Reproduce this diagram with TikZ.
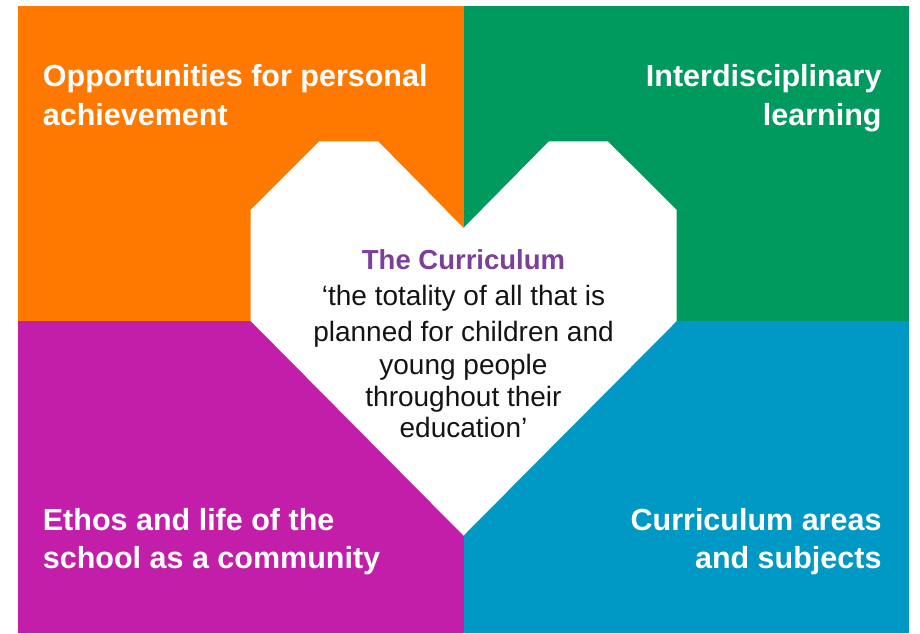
\documentclass[tikz,border=0pt]{standalone}
\usepackage{fontspec}
\setmainfont{Liberation Sans}
\definecolor{qorange}{RGB}{255,121,0}
\definecolor{qgreen}{RGB}{0,153,94}
\definecolor{qmagenta}{RGB}{195,30,170}
\definecolor{qblue}{RGB}{0,152,196}
\definecolor{qpurple}{RGB}{125,63,152}
\definecolor{qtext}{RGB}{20,20,20}
\tikzset{
  quad/.style={draw=none},
  lbl/.style={inner sep=0pt, text=white, font=\fontsize{30.5}{38}\selectfont\bfseries},
  ttl/.style={inner sep=0pt, text=qpurple, font=\fontsize{27.5}{33}\selectfont\bfseries},
  body/.style={inner sep=0pt, text=qtext, font=\fontsize{28}{33}\selectfont},
}
\begin{document}
\begin{tikzpicture}[x=1pt,y=-1pt]
\useasboundingbox (0,0) rectangle (920,633);
% quadrants
\fill[qorange] (18,6) rectangle (463.5,321);
\fill[qgreen] (463.5,6) rectangle (908.7,321);
\fill[qmagenta] (18,321) rectangle (463.5,633);
\fill[qblue] (463.5,321) rectangle (908.7,633);
% heart
\fill[white] (250.7,210) -- (319.3,141.3) -- (378,141.3) -- (463.5,228)
  -- (549,141.3) -- (607.7,141.3) -- (676.7,210) -- (676.7,321)
  -- (463.5,535.5) -- (250.7,321) -- cycle;
% corner labels
\node[lbl, anchor=base west] (o1) at (42.7,86.7) {Opportunities for personal};
\node[lbl, anchor=base west] (o2) at (42.7,125) {achievement};
\node[lbl, anchor=base east] (i1) at (881.7,86.7) {Interdisciplinary};
\node[lbl, anchor=base east] (i2) at (881.7,125) {learning};
\node[lbl, anchor=base west] (e1) at (42.7,530) {Ethos and life of the};
\node[lbl, anchor=base west] (e2) at (42.7,568.3) {school as a community};
\node[lbl, anchor=base east] (c1) at (881.7,530) {Curriculum areas};
\node[lbl, anchor=base east] (c2) at (881.7,568.3) {and subjects};
% centre text
\node[ttl, anchor=base] (t0) at (463.5,269.3) {The Curriculum};
\node[body, anchor=base] (t1) at (463.5,305) {‘the totality of all that is};
\node[body, anchor=base] (t2) at (463.5,341) {planned for children and};
\node[body, anchor=base] (t3) at (463.5,374.5) {young people};
\node[body, anchor=base] (t4) at (463.5,406.5) {throughout their};
\node[body, anchor=base] (t5) at (463.5,437) {education’};
\end{tikzpicture}
\end{document}
